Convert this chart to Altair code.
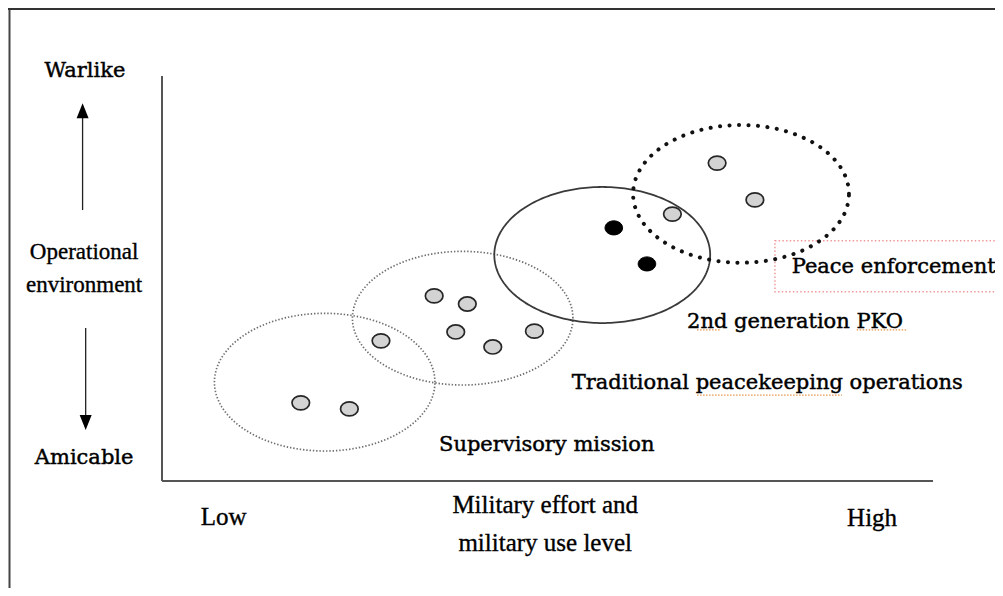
import altair as alt
import numpy as np
import pandas as pd

# ---------------- data (conceptual units) ----------------
# x: military effort / use level (0 = Low end of axis, 100 = High end)
# y: operational environment (0 = Amicable, 100 = Warlike)
region_names = ["Supervisory mission", "Traditional peacekeeping operations",
                "2nd generation PKO", "Peace enforcement"]
region_cx = [21.1, 39.0, 57.1, 75.1]
region_cy = [24.4, 40.2, 55.8, 70.9]
region_rx = [14.3, 14.3, 14.0, 14.0]
region_ry = [17.0, 16.5, 16.8, 17.0]

region_label_x = [49.9, 78.5, 82.1, 94.9]
region_label_y = [8.9, 24.2, 39.3, 52.8]

mission_region = (["Supervisory mission"] * 2
                  + ["Traditional peacekeeping operations"] * 6
                  + ["2nd generation PKO"] * 2
                  + ["Peace enforcement"] * 3)
mission_x = [18.0, 24.3, 28.4, 35.3, 39.6, 38.1, 42.9, 48.3, 58.6, 62.9, 66.2, 72.0, 76.9]
mission_y = [19.3, 17.8, 34.6, 45.7, 43.7, 36.8, 33.1, 37.0, 62.5, 53.6, 65.9, 78.5, 69.4]

y_end_labels = ["Warlike", "Amicable"]
y_end_x = [-10.0, -10.1]
y_end_y = [101.2, 5.7]

y_title_lines = ["Operational", "environment"]
y_title_x = [-10.1, -10.1]
y_title_y = [56.5, 48.4]

x_labels = ["Low", "Military effort and", "military use level", "High"]
x_label_x = [8.0, 49.7, 49.7, 92.1]
x_label_y = [-8.9, -5.9, -15.3, -9.1]

arrow_x = [-10.3, -9.9]
arrow_from = [66.9, 37.8]
arrow_tip = [93.3, 12.6]

axis_x = [0, 0]
axis_y = [0, 0]
axis_x2 = [0, 100]
axis_y2 = [100, 0]

box_x = [79.5]
box_x2 = [112.0]
box_y = [46.7]
box_y2 = [59.3]

squig_x = [69.4, 90.1, 69.4]
squig_x2 = [72.5, 96.6, 88.2]
squig_y = [37.3, 37.3, 21.2]

# ---------------- layout ----------------
W, H = 987, 580
PX_X, PX_Y = 7.71, 4.05            # pixels per unit
X0_PX, Y0_PX = 162 - 8, 481 - 8    # axis origin inside the view
xs = alt.Scale(domain=[-X0_PX / PX_X, (W - X0_PX) / PX_X], nice=False, zero=False)
ys = alt.Scale(domain=[-(H - Y0_PX) / PX_Y, Y0_PX / PX_Y], nice=False, zero=False)

def X(f="x"):
    return alt.X(f + ":Q", scale=xs, axis=None)

def Y(f="y"):
    return alt.Y(f + ":Q", scale=ys, axis=None)

# ellipse outlines
t = np.linspace(0, 2 * np.pi, 241)
rows = []
for name, cx, cy, rx, ry in zip(region_names, region_cx, region_cy, region_rx, region_ry):
    for i, a in enumerate(t):
        rows.append({"region": name, "i": i, "x": cx + rx * np.cos(a), "y": cy + ry * np.sin(a)})
ell = pd.DataFrame(rows)

def ell_layer(names, **style):
    return alt.Chart(ell).transform_filter(
        alt.FieldOneOfPredicate(field="region", oneOf=names)
    ).mark_line(**style).encode(x=X(), y=Y(), order="i:Q", detail="region:N")

fine_dotted = ell_layer(region_names[:2], color="#6e6e6e", strokeWidth=1.7, strokeDash=[1.4, 1.9])
solid = ell_layer([region_names[2]], color="#3a3a3a", strokeWidth=1.8)
bold_dotted = ell_layer([region_names[3]], color="#111111", strokeWidth=4.0,
                        strokeDash=[0.1, 9.4], strokeCap="round")

missions = pd.DataFrame({"region": mission_region, "x": mission_x, "y": mission_y})
OVAL = "M-1,0A1,0.8,0,1,1,1,0A1,0.8,0,1,1,-1,0Z"
gray_dots = alt.Chart(missions).transform_filter(
    alt.datum.region != "2nd generation PKO"
).mark_point(shape=OVAL, size=310, filled=True, fill="#d3d3d3", stroke="#262626",
             strokeWidth=1.7, opacity=1).encode(x=X(), y=Y())
black_dots = alt.Chart(missions).transform_filter(
    alt.datum.region == "2nd generation PKO"
).mark_point(shape=OVAL, size=310, filled=True, fill="#000000", stroke="#000000",
             strokeWidth=1, opacity=1).encode(x=X(), y=Y())

# axes of the diagram
axes = alt.Chart(pd.DataFrame({"x": axis_x, "y": axis_y, "x2": axis_x2, "y2": axis_y2})).mark_rule(
    color="#555555", strokeWidth=2).encode(x=X(), y=Y(), x2="x2:Q", y2="y2:Q")

# arrows
HEAD_H = 15 / PX_Y
arr = pd.DataFrame({"x": arrow_x, "y": arrow_from, "tip": arrow_tip})
arr["y2"] = [tp - HEAD_H / 2 if tp > fr else tp + HEAD_H / 2 for fr, tp in zip(arrow_from, arrow_tip)]
arr["hy"] = arr["y2"]
arrow_lines = alt.Chart(arr).mark_rule(color="#222222", strokeWidth=1.3).encode(
    x=X(), y=Y(), y2="y2:Q")
up_head = alt.Chart(arr.iloc[[0]]).mark_point(
    shape="M0,-1L0.8,1L-0.8,1Z", size=225, filled=True, fill="#000000", opacity=1
).encode(x=X(), y=Y("hy"))
down_head = alt.Chart(arr.iloc[[1]]).mark_point(
    shape="M0,1L0.8,-1L-0.8,-1Z", size=225, filled=True, fill="#000000", opacity=1
).encode(x=X(), y=Y("hy"))

# red dotted text box
box = alt.Chart(pd.DataFrame({"x": box_x, "x2": box_x2, "y": box_y, "y2": box_y2})).mark_rect(
    fill="#ffffff", fillOpacity=0, stroke="#f09a9a", strokeWidth=1.5, strokeDash=[1.5, 2.2]
).encode(x=X(), x2="x2:Q", y=Y(), y2="y2:Q")

squig = alt.Chart(pd.DataFrame({"x": squig_x, "x2": squig_x2, "y": squig_y})).mark_rule(
    color="#e8964a", strokeWidth=1.3, strokeDash=[1.5, 1.5]).encode(x=X(), x2="x2:Q", y=Y())

# texts
def text_layer(labels, xv, yv, font, size, sw):
    df = pd.DataFrame({"t": labels, "x": xv, "y": yv})
    return alt.Chart(df).mark_text(font=font, fontSize=size, color="#000000",
                                   stroke="#000000", strokeWidth=sw,
                                   align="center", baseline="middle").encode(
        x=X(), y=Y(), text="t:N")

region_text = text_layer(region_names, region_label_x, region_label_y, "DejaVu Serif", 21, 0.45)
end_text = text_layer(y_end_labels, y_end_x, y_end_y, "DejaVu Serif", 21, 0.45)
ytitle_text = text_layer(y_title_lines, y_title_x, y_title_y, "Liberation Serif", 23, 0.35)
xlab_text = text_layer(x_labels, x_label_x, x_label_y, "Liberation Serif", 25, 0.35)

# outer frame (decoration)
frame_left = alt.Chart(pd.DataFrame({"a": [0]})).mark_rule(color="#444444", strokeWidth=2).encode(
    x=alt.value(1.5), y=alt.value(0), y2=alt.value(H))
frame_top = alt.Chart(pd.DataFrame({"a": [0]})).mark_rule(color="#333333", strokeWidth=2).encode(
    y=alt.value(1), x=alt.value(0), x2=alt.value(W))

chart = alt.layer(
    frame_left, frame_top, axes, box, squig,
    fine_dotted, solid, bold_dotted,
    gray_dots, black_dots,
    arrow_lines, up_head, down_head,
    region_text, end_text, ytitle_text, xlab_text,
).properties(
    width=W, height=H, padding=0, autosize=alt.AutoSizeParams(type="none"),
    background="#ffffff"
).configure_view(strokeWidth=0)

chart.save("out.html", embed_options={"renderer": "svg", "actions": False})
